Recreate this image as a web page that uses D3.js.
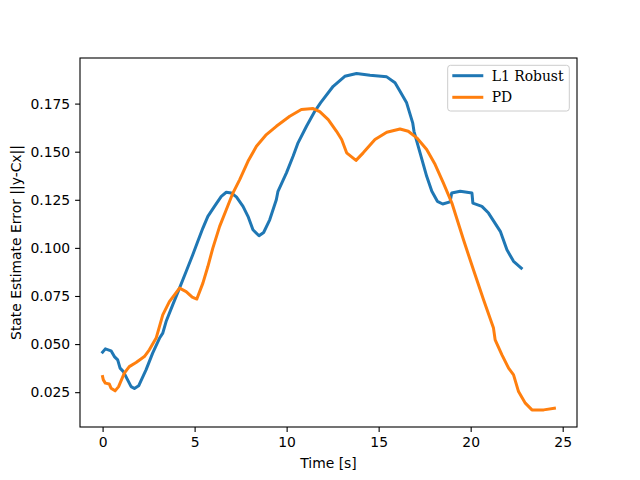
<!DOCTYPE html>
<html>
<head>
<meta charset="utf-8">
<script src="https://cdn.jsdelivr.net/npm/d3@7"></script>
<style>
  body { margin: 0; background: #fff; }
</style>
</head>
<body>
<svg id="chart" width="640" height="480"></svg>
<script>
// L1 Robust series (time [s], error)
const robustT = [0, 0.15, 0.46, 0.64, 0.82, 0.95, 1.13, 1.36, 1.55, 1.73, 1.96, 2.09, 2.36, 2.72, 3.09, 3.27, 3.45, 3.81, 4.18, 4.54, 4.9, 5.17, 5.45, 5.72, 6.08, 6.45, 6.72, 6.99, 7.27, 7.63, 7.9, 8.17, 8.5, 8.75, 9.08, 9.44, 9.53, 9.99, 10.35, 10.62, 11.08, 11.53, 11.85, 12.53, 13.16, 13.8, 14.53, 15.44, 15.89, 16.16, 16.52, 16.85, 16.92, 17.25, 17.61, 17.89, 18.19, 18.48, 18.88, 18.97, 19.43, 20.07, 20.12, 20.61, 20.97, 21.61, 21.97, 22.33, 22.75];
const robustV = [0.0458, 0.0475, 0.0465, 0.0435, 0.0418, 0.0375, 0.0357, 0.0314, 0.0279, 0.0269, 0.0283, 0.031, 0.0366, 0.0453, 0.053, 0.0557, 0.0617, 0.0704, 0.0791, 0.0877, 0.0964, 0.1033, 0.1103, 0.1164, 0.1216, 0.1268, 0.1289, 0.1285, 0.1265, 0.1216, 0.1164, 0.1094, 0.1063, 0.108, 0.1146, 0.125, 0.1294, 0.139, 0.1476, 0.1546, 0.1632, 0.171, 0.1755, 0.184, 0.1892, 0.1906, 0.1897, 0.1889, 0.1858, 0.1814, 0.1754, 0.165, 0.1606, 0.1494, 0.1372, 0.1294, 0.1242, 0.1228, 0.1239, 0.1285, 0.1294, 0.1285, 0.1233, 0.1216, 0.1181, 0.1086, 0.099, 0.093, 0.0895];

// PD series
const pdT = [0, 0.04, 0.15, 0.36, 0.46, 0.68, 0.87, 1.18, 1.45, 1.82, 2.27, 2.54, 2.91, 3.27, 3.63, 4.18, 4.54, 4.87, 5.12, 5.45, 5.72, 5.99, 6.36, 6.72, 7.08, 7.45, 7.9, 8.36, 8.9, 9.44, 10.17, 10.8, 11.44, 11.8, 12.26, 12.71, 12.99, 13.26, 13.77, 14.16, 14.8, 15.44, 16.16, 16.61, 17.07, 17.61, 18.07, 18.52, 18.98, 19.61, 20.15, 20.7, 21.24, 21.33, 21.7, 22.06, 22.33, 22.6, 22.97, 23.33, 23.97, 24.55];
const pdV = [0.0331, 0.0314, 0.0297, 0.0293, 0.0271, 0.0257, 0.0279, 0.0349, 0.0383, 0.0404, 0.0435, 0.047, 0.0531, 0.0652, 0.0721, 0.0791, 0.0773, 0.0744, 0.0734, 0.0817, 0.0903, 0.0999, 0.1112, 0.1198, 0.1285, 0.1355, 0.145, 0.1528, 0.1589, 0.1632, 0.1684, 0.1719, 0.1724, 0.1708, 0.1667, 0.1606, 0.1563, 0.1494, 0.1455, 0.1494, 0.1563, 0.1601, 0.1618, 0.1606, 0.1572, 0.1511, 0.1433, 0.1337, 0.1233, 0.1042, 0.0886, 0.073, 0.0583, 0.0522, 0.0444, 0.0375, 0.034, 0.0253, 0.0193, 0.0158, 0.0158, 0.0167];

const xTicks = [0, 5, 10, 15, 20, 25];
const yTicks = [0.025, 0.05, 0.075, 0.1, 0.125, 0.15, 0.175];
const seriesNames = ['L1 Robust', 'PD'];
const seriesColors = ['#1f77b4', '#ff7f0e'];

const svg = d3.select('svg#chart');
const margin = {top: 58, right: 63, bottom: 53, left: 80};
const width = 640, height = 480;
const innerwidth = width - margin.left - margin.right;
const innerheight = height - margin.top - margin.bottom;

const series = [
  robustT.map((t, i) => ({t, v: robustV[i]})),
  pdT.map((t, i) => ({t, v: pdV[i]}))
];

const xScale = d3.scaleLinear().domain([-1.2275, 25.7775]).range([0, innerwidth]);
const yScale = d3.scaleLinear().domain([0.0069, 0.1987]).range([innerheight, 0]);

const g = svg.append('g').attr('transform', `translate(${margin.left},${margin.top})`);

// lines
const lineGen = d3.line().x(d => xScale(d.t)).y(d => yScale(d.v));
g.selectAll('.line-path').data(series).enter().append('path')
  .attr('class', 'line-path')
  .attr('d', lineGen)
  .attr('fill', 'none')
  .attr('stroke', (d, i) => seriesColors[i])
  .attr('stroke-width', 3)
  .attr('stroke-linejoin', 'round')
  .attr('stroke-linecap', 'square');

// axes
const xAxis = d3.axisBottom(xScale).tickValues(xTicks).tickSize(4.9).tickPadding(4.9).tickFormat(d3.format('d'));
const yAxis = d3.axisLeft(yScale).tickValues(yTicks).tickSize(4.9).tickPadding(4.9).tickFormat(d3.format('.3f'));

const xAxisG = g.append('g').attr('transform', `translate(0,${innerheight})`).call(xAxis);
const yAxisG = g.append('g').call(yAxis);
[xAxisG, yAxisG].forEach(a => {
  a.select('.domain').remove();
  a.selectAll('text').style('font-family', '"DejaVu Sans", sans-serif').style('font-size', '13.9px').attr('fill', '#000');
  a.selectAll('line').attr('stroke', '#000').attr('stroke-width', 1.1);
});

// frame
g.append('rect')
  .attr('width', innerwidth).attr('height', innerheight)
  .attr('fill', 'none').attr('stroke', '#000').attr('stroke-width', 1.1);

// axis labels
g.append('text')
  .attr('x', innerwidth / 2).attr('y', innerheight + 41)
  .attr('text-anchor', 'middle')
  .style('font-family', '"DejaVu Sans", sans-serif').style('font-size', '13.9px')
  .text('Time [s]');
g.append('text')
  .attr('transform', 'rotate(-90)')
  .attr('x', -innerheight / 2).attr('y', -59)
  .attr('text-anchor', 'middle')
  .style('font-family', '"DejaVu Sans", sans-serif').style('font-size', '13.9px')
  .text('State Estimate Error ||y-Cx||');

// legend
const legend = g.append('g').attr('transform', `translate(${447.7 - margin.left},${65.3 - margin.top})`);
legend.append('rect')
  .attr('width', 121.6).attr('height', 45.7).attr('rx', 2.8)
  .attr('fill', '#fff').attr('fill-opacity', 0.8)
  .attr('stroke', '#cccccc').attr('stroke-width', 1);
const items = legend.selectAll('.item').data(seriesNames).enter().append('g')
  .attr('transform', (d, i) => `translate(0,${10.4 + i * 21.6})`);
items.append('line')
  .attr('x1', 4.6).attr('x2', 35.6)
  .attr('stroke', (d, i) => seriesColors[i]).attr('stroke-width', 3);
items.append('text')
  .attr('x', 44).attr('dy', '0.35em')
  .style('font-family', '"DejaVu Serif", serif').style('font-size', '13.9px')
  .text(d => d);
</script>
</body>
</html>
